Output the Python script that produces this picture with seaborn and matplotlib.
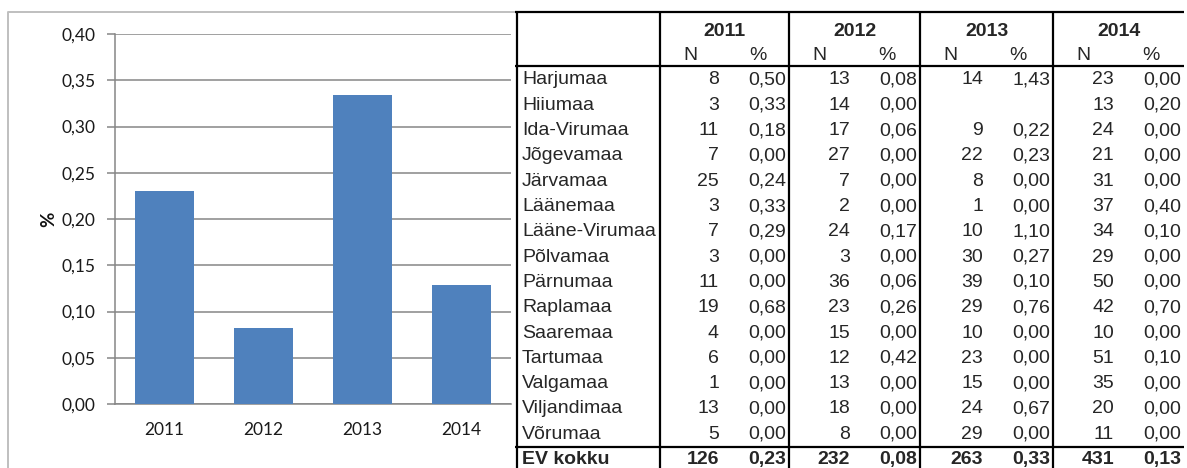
import matplotlib
matplotlib.use("Agg")
import matplotlib.pyplot as plt
import seaborn as sns
import pandas as pd

# ---------------- data ----------------
years = ["2011", "2012", "2013", "2014"]
chart_pct = [0.230, 0.082, 0.334, 0.129]
y_ticks = [0.00, 0.05, 0.10, 0.15, 0.20, 0.25, 0.30, 0.35, 0.40]

regions = ["Harjumaa", "Hiiumaa", "Ida-Virumaa", "Jõgevamaa", "Järvamaa", "Läänemaa",
           "Lääne-Virumaa", "Põlvamaa", "Pärnumaa", "Raplamaa", "Saaremaa", "Tartumaa",
           "Valgamaa", "Viljandimaa", "Võrumaa"]
n_2011 = [8, 3, 11, 7, 25, 3, 7, 3, 11, 19, 4, 6, 1, 13, 5]
pct_2011 = [0.50, 0.33, 0.18, 0.00, 0.24, 0.33, 0.29, 0.00, 0.00, 0.68, 0.00, 0.00, 0.00, 0.00, 0.00]
n_2012 = [13, 14, 17, 27, 7, 2, 24, 3, 36, 23, 15, 12, 13, 18, 8]
pct_2012 = [0.08, 0.00, 0.06, 0.00, 0.00, 0.00, 0.17, 0.00, 0.06, 0.26, 0.00, 0.42, 0.00, 0.00, 0.00]
n_2013 = [14, None, 9, 22, 8, 1, 10, 30, 39, 29, 10, 23, 15, 24, 29]
pct_2013 = [1.43, None, 0.22, 0.23, 0.00, 0.00, 1.10, 0.27, 0.10, 0.76, 0.00, 0.00, 0.00, 0.67, 0.00]
n_2014 = [23, 13, 24, 21, 31, 37, 34, 29, 50, 42, 10, 51, 35, 20, 11]
pct_2014 = [0.00, 0.20, 0.00, 0.00, 0.00, 0.40, 0.10, 0.00, 0.00, 0.70, 0.00, 0.10, 0.00, 0.00, 0.00]
total_label = "EV kokku"
total_n = [126, 232, 263, 431]
total_pct = [0.23, 0.08, 0.33, 0.13]

n_cols = [n_2011, n_2012, n_2013, n_2014]
pct_cols = [pct_2011, pct_2012, pct_2013, pct_2014]

def fmt(v):
    return "" if v is None else f"{v:.2f}".replace(".", ",")

# ---------------- figure ----------------
sns.set_theme(style="white")
plt.rcParams["font.family"] = ["Lato", "DejaVu Sans"]

W, H = 1187, 468
fig = plt.figure(figsize=(W / 100, H / 100), dpi=100)

def px_axes(x0, y0, x1, y1):
    return fig.add_axes([x0 / W, 1 - y1 / H, (x1 - x0) / W, (y1 - y0) / H])

GRID = "#868686"
TXT = "#1a1a1a"
ax = px_axes(115, 34, 511, 404)
df = pd.DataFrame({"year": years, "pct": chart_pct})
sns.barplot(data=df, x="year", y="pct", color="#4F81BD", saturation=1, width=0.59,
            ax=ax, zorder=3, edgecolor="none")
ax.set_ylim(0, 0.40)
ax.set_xlim(-0.5, 3.5)
ax.set_yticks(y_ticks)
ax.set_yticklabels([f"{t:.2f}".replace(".", ",") for t in y_ticks], fontsize=12.5, color=TXT)
ax.yaxis.grid(True, color=GRID, linewidth=1.1, zorder=0)
ax.set_axisbelow(True)
ax.set_xticks(range(len(years)))
ax.set_xticklabels(years, fontsize=12.5, color=TXT)
ax.set_xticks([-0.5, 0.5, 1.5, 2.5, 3.5], minor=True)
ax.tick_params(axis="x", which="major", length=0, pad=13)
ax.tick_params(axis="x", which="minor", length=5, width=1.1, color=GRID)
ax.tick_params(axis="y", which="major", length=6, width=1.1, color=GRID, pad=8, left=True)
for s in ["top", "right"]:
    ax.spines[s].set_visible(False)
for s in ["left", "bottom"]:
    ax.spines[s].set_color(GRID)
    ax.spines[s].set_linewidth(1.1)
ax.set_xlabel("")
ax.set_ylabel("%", fontsize=13.5, fontweight="bold", color="#111111", labelpad=3)

# ---------------- overlay for frame + table ----------------
ov = fig.add_axes([0, 0, 1, 1], zorder=5)
ov.set_xlim(0, W)
ov.set_ylim(H, 0)
ov.axis("off")

# chart frame
ov.plot([8, 8, 518], [H, 12, 12], color="#BFBFBF", linewidth=1.4, solid_capstyle="butt")

TF = ["Liberation Sans", "DejaVu Sans"]
FS = 14
lw = 1.6

group_left = [660, 789, 920, 1053]
group_right = [789, 920, 1053, 1184]

# horizontal lines
for yy in [12, 66, 447]:
    ov.plot([515, 1184], [yy, yy], color="black", linewidth=lw, solid_capstyle="butt")
# vertical lines
for xx in [517, 660, 789, 920, 1053]:
    ov.plot([xx, xx], [12, H], color="black", linewidth=lw, solid_capstyle="butt")

# header
for g, yr in enumerate(years):
    cx = (group_left[g] + group_right[g]) / 2
    ov.text(cx, 31, yr, ha="center", va="center", fontsize=FS, fontweight="bold", family=TF)
    ov.text(group_left[g] + 30, 56, "N", ha="center", va="center", fontsize=FS, family=TF)
    ov.text(group_left[g] + 98, 56, "%", ha="center", va="center", fontsize=FS, family=TF)

row_y0, pitch = 80, 25.3
for i, reg in enumerate(regions):
    y = row_y0 + i * pitch
    ov.text(522, y, reg, ha="left", va="center", fontsize=FS, family=TF)
    for g in range(4):
        n = n_cols[g][i]
        p = pct_cols[g][i]
        ov.text(group_right[g] - 70, y, "" if n is None else str(n), ha="right", va="center",
                fontsize=FS, family=TF)
        ov.text(group_right[g] - 3, y, fmt(p), ha="right", va="center", fontsize=FS, family=TF)

y = row_y0 + len(regions) * pitch
ov.text(522, y, total_label, ha="left", va="center", fontsize=FS, fontweight="bold", family=TF)
for g in range(4):
    ov.text(group_right[g] - 70, y, str(total_n[g]), ha="right", va="center", fontsize=FS,
            fontweight="bold", family=TF)
    ov.text(group_right[g] - 3, y, fmt(total_pct[g]), ha="right", va="center", fontsize=FS,
            fontweight="bold", family=TF)

fig.savefig("out.png", dpi=100)
